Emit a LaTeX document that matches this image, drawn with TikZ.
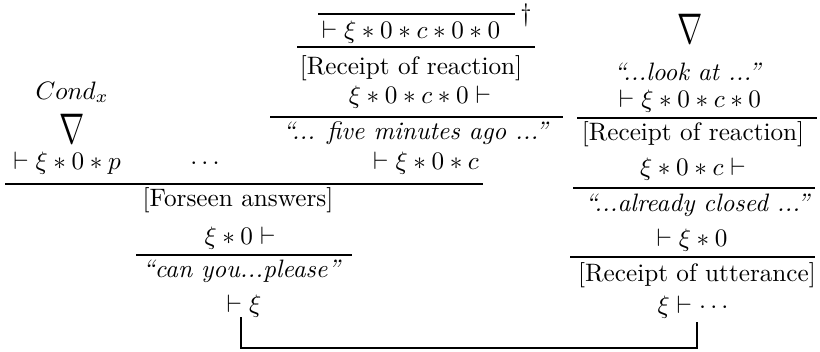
\documentclass[tikz,border=0pt]{standalone}
\usepackage{graphicx}
\begin{document}
\begin{tikzpicture}[x=0.3968pt,y=-0.3968pt,
  txt/.style={anchor=base,inner sep=0pt},
  rule/.style={line width=0.8pt},
  brk/.style={line width=0.8pt}]
\useasboundingbox (0,0) rectangle (820,351);
% middle/left tree
\node[txt] (t1) at (411,38) {$\vdash \xi * 0 * c * 0 * 0$};
\node[txt] (dag) at (526,21) {\dag};
\node[txt] (t2) at (411,74) {[Receipt of reaction]};
\node[txt] (t3) at (420,103) {$\xi * 0 * c * 0 \vdash$};
\node[txt] (t4) at (416,139) {\textit{``... five minutes ago ...''}};
\node[txt] (t5) at (426,169) {$\vdash \xi * 0 * c$};
\node[txt] (cond) at (72,99) {$Cond_x$};
\node[txt] (nab1) at (72,143) {\scalebox{1.2}[1.7]{$\nabla$}};
\node[txt] (p1) at (67,169) {$\vdash \xi * 0 * p$};
\node[txt] (dots) at (205,169) {$\cdots$};
\node[txt] (fa) at (238,206) {[Forseen answers]};
\node[txt] (t6) at (240,244) {$\xi * 0 \vdash$};
\node[txt] (cy) at (242,277) {\textit{``can you...please''}};
\node[txt] (t7) at (244,312) {$\vdash \xi$};
% right tree
\node[txt] (nab2) at (690,43) {\scalebox{1.2}[1.7]{$\nabla$}};
\node[txt] (la) at (688,80) {\textit{``...look at ...''}};
\node[txt] (r1) at (690,107) {$\vdash \xi * 0 * c * 0$};
\node[txt] (rr) at (693,140) {[Receipt of reaction]};
\node[txt] (r2) at (693,175) {$\xi * 0 * c \vdash$};
\node[txt] (ac) at (698,211) {\textit{``...already closed ...''}};
\node[txt] (r3) at (692,246) {$\vdash \xi * 0$};
\node[txt] (ru) at (697,281) {[Receipt of utterance]};
\node[txt] (r4) at (693,313) {$\xi \vdash \cdots$};
% rules
\draw[rule] (318,14) -- (515,14);
\draw[rule] (297,47) -- (535,47);
\draw[rule] (270,117) -- (563,117);
\draw[rule] (5,184) -- (483,184);
\draw[rule] (136,255) -- (352,255);
\draw[rule] (577,118) -- (817,118);
\draw[rule] (573,188) -- (815,188);
\draw[rule] (570,257) -- (815,257);
% bracket
\coordinate (bk) at (0,348);
\draw[brk] ([xshift=-1pt]t7.south) -- ([xshift=-1pt]t7.south |- bk) -- ([xshift=1.5pt]r4.south |- bk) -- ([xshift=1.5pt,yshift=-1.5pt]r4.south);
\end{tikzpicture}
\end{document}
